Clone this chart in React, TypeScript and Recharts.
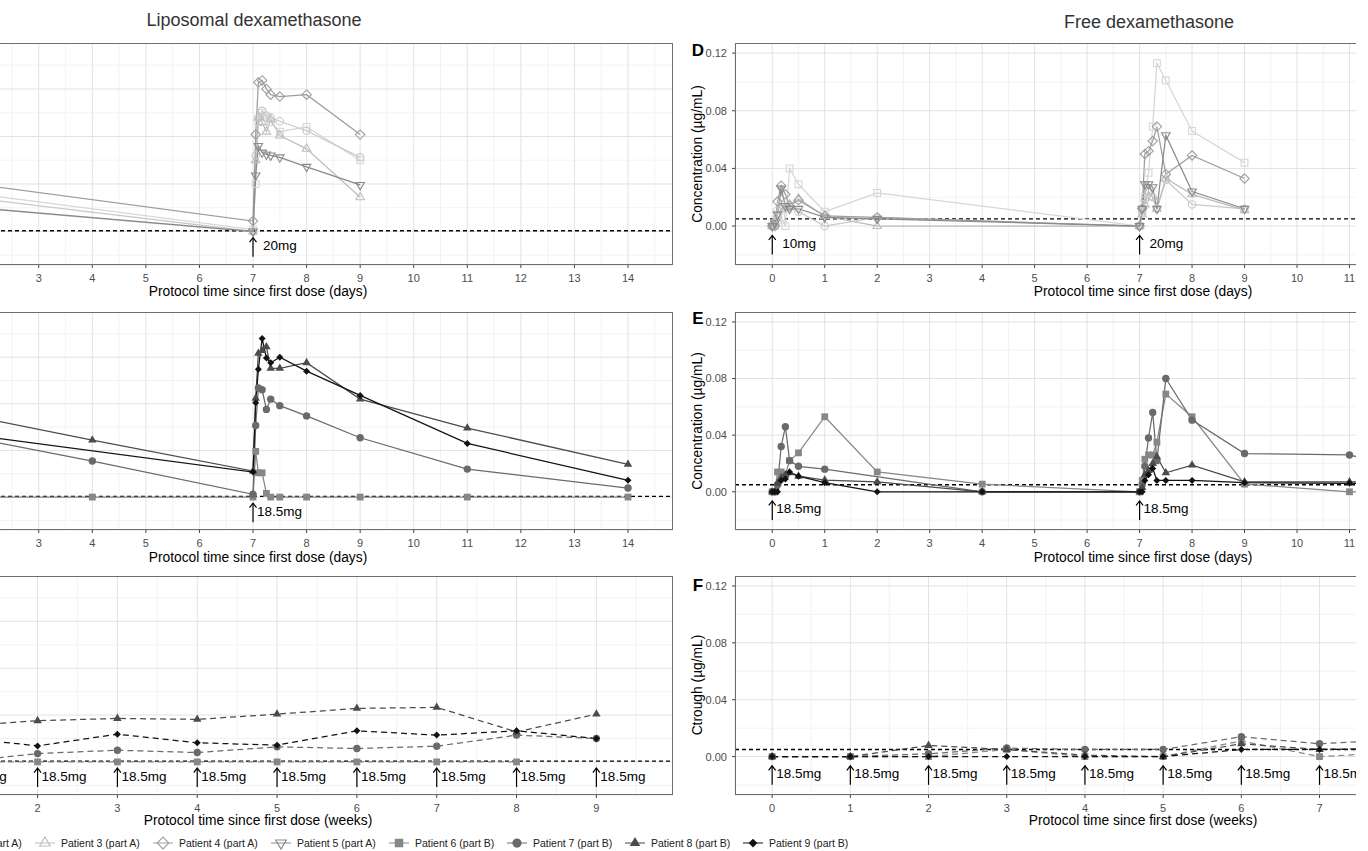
import React from 'react';
import { ComposedChart, Line, Scatter, XAxis, YAxis, CartesianGrid, ReferenceLine } from 'recharts';

const FONT = '"Liberation Sans", Arial, Helvetica, sans-serif';

// ---------- patients (legend order) ----------
const patientNames = [
  'Patient 1 (part A)', 'Patient 2 (part A)', 'Patient 3 (part A)', 'Patient 4 (part A)', 'Patient 5 (part A)',
  'Patient 6 (part B)', 'Patient 7 (part B)', 'Patient 8 (part B)', 'Patient 9 (part B)',
];
const patientColors = ['#d6d6d6', '#c9c9c9', '#bdbdbd', '#9e9e9e', '#8a8a8a', '#878787', '#6a6a6a', '#4b4b4b', '#121212'];
const patientShapes = ['sq', 'ci', 'tr', 'di', 'tv', 'sq', 'ci', 'tr', 'di'];
const patientFilled = [false, false, false, false, false, true, true, true, true];

// ---------- A: liposomal dexamethasone, part A (20 mg) ----------
const daysA = [2, 7, 7.05, 7.1, 7.17, 7.25, 7.33, 7.5, 8, 9];
const lipoP1 = [0.385, 0.02, 0.5, 1.15, 1.25, 1.2, 1.15, 1.05, 1.1, 0.75];
const lipoP2 = [0.338, 0, 0.8, 1.2, 1.27, 1.22, 1.2, 1.16, 1.06, 0.78];
const lipoP3 = [null, 0, 0.75, 1.2, 1.15, 1.05, 1.18, 1.01, 0.87, 0.36];
const lipoP4 = [0.484, 0.11, 1.02, 1.57, 1.59, 1.5, 1.44, 1.42, 1.44, 1.02];
const lipoP5 = [0.242, 0, 0.59, 0.9, 0.83, 0.81, 0.8, 0.78, 0.68, 0.49];

// ---------- B: liposomal dexamethasone, part B (18.5 mg) ----------
const daysB = [2, 4, 7, 7.05, 7.1, 7.17, 7.25, 7.33, 7.5, 8, 9, 11, 14];
const lipoP6 = [0, 0, 0, 0.49, 0.26, 0.26, 0.04, 0, 0, 0, 0, 0, 0];
const lipoP7 = [0.608, 0.386, 0.03, 0.767, 1.17, 1.15, 0.94, 1.05, 0.98, 0.87, 0.636, 0.3, 0.097];
const lipoP8 = [0.84, 0.61, 0.279, 1.06, 1.54, 1.57, 1.61, 1.38, 1.38, 1.44, 1.05, 0.74, 0.35];
const lipoP9 = [0.647, null, 0.268, 1.01, 1.37, 1.7, 1.49, 1.44, 1.5, 1.35, 1.09, 0.575, 0.18];

// ---------- C: liposomal trough, weekly ----------
const weeksC = [0, 1, 2, 3, 4, 5, 6, 7, 8, 9];
const troughLipoP6 = [0, 0, 0, 0, 0, 0, 0, 0, 0, null];
const troughLipoP7 = [0, 0, 0.089, 0.125, 0.1, 0.161, 0.143, 0.168, 0.286, 0.25];
const troughLipoP8 = [0, 0.38, 0.44, 0.464, 0.454, 0.51, 0.571, 0.582, 0.32, 0.51];
const troughLipoP9 = [0, 0.263, 0.171, 0.296, 0.204, 0.179, 0.332, 0.286, 0.332, 0.25];

// ---------- D: free dexamethasone, part A ----------
const daysD = [0, 0.05, 0.1, 0.17, 0.25, 0.33, 0.5, 1, 2, 7, 7.05, 7.1, 7.17, 7.25, 7.33, 7.5, 8, 9];
const freeP1 = [0, 0, 0.004, 0.006, 0, 0.04, 0.029, 0.01, 0.023, 0, 0.01, 0.02, 0.037, 0.069, 0.113, 0.101, 0.066, 0.044];
const freeP2 = [0, 0.003, 0.011, 0.015, 0.012, 0.013, 0.01, 0, 0.006, 0, 0.01, 0.018, 0.024, 0.02, 0.012, 0.032, 0.015, 0.012];
const freeP3 = [0, 0.002, 0.008, 0.012, 0.013, 0.015, 0.019, 0.007, 0, 0, 0.008, 0.015, 0.024, 0.02, 0.012, 0.033, 0.022, 0.011];
const freeP4 = [0, 0, 0.017, 0.028, 0.022, 0.014, 0.018, 0.007, 0.006, 0, 0.012, 0.05, 0.052, 0.059, 0.069, 0.036, 0.049, 0.033];
const freeP5 = [0, 0.002, 0.008, 0.026, 0.014, 0.012, 0.012, 0.006, 0.005, 0, 0.012, 0.029, 0.029, 0.027, 0.012, 0.063, 0.024, 0.012];

// ---------- E: free dexamethasone, part B ----------
const daysE = [0, 0.05, 0.1, 0.17, 0.25, 0.33, 0.5, 1, 2, 4, 7, 7.05, 7.1, 7.17, 7.25, 7.33, 7.5, 8, 9, 11, 14];
const freeP6 = [0, 0, 0.014, 0.014, 0.012, 0.022, 0.0275, 0.053, 0.014, 0.0054, 0, 0.008, 0.023, 0.026, 0.026, 0.035, 0.069, 0.053, 0.0054, 0, 0];
const freeP7 = [0, 0, 0.005, 0.032, 0.046, 0.022, 0.018, 0.016, null, 0, 0, 0.005, 0.018, 0.038, 0.056, 0.022, 0.08, 0.0506, 0.027, 0.026, 0];
const freeP8 = [0, 0, 0.006, 0.01, 0.012, 0.0134, 0.011, 0.0082, 0.007, 0, 0, 0.003, 0.012, 0.015, 0.02, 0.0247, 0.0134, 0.0188, 0.007, 0.007, 0.006];
const freeP9 = [0, 0, 0, 0.008, 0.009, 0.014, 0.011, 0.0064, 0, 0, 0, 0, 0.008, 0.012, 0.0165, 0.008, 0.008, 0.008, 0.0064, 0.006, 0.006];

// ---------- F: free trough, weekly ----------
const weeksF = [0, 1, 2, 3, 4, 5, 6, 7, 8, 9];
const troughFreeP6 = [0, 0, 0, 0.005, 0, 0, 0.011, 0, 0.003, null];
const troughFreeP7 = [0, 0, 0.002, 0.006, 0.005, 0.005, 0.014, 0.009, 0.012, 0.01];
const troughFreeP8 = [0, 0, 0.0078, 0.005, 0.001, 0, 0.009, 0.005, 0.006, 0.007];
const troughFreeP9 = [0, 0, 0, 0, 0, 0, 0.005, 0.005, 0.005, 0.005];

// dosing times and labels
const dosesA = [7];
const dosesB = [0, 7];
const dosesD = [0, 7];
const doseLabelsD = ['10mg', '20mg'];
const dosesWeeks = [0, 1, 2, 3, 4, 5, 6, 7, 8, 9];

// axes (left column is cropped, so only the visible tick labels are listed for it)
const dayTicks = [0, 1, 2, 3, 4, 5, 6, 7, 8, 9, 10, 11, 12, 13, 14];
const dayTicksLeft = [3, 4, 5, 6, 7, 8, 9, 10, 11, 12, 13, 14];
const weekTicks = [0, 1, 2, 3, 4, 5, 6, 7, 8, 9];
const weekTicksLeft = [2, 3, 4, 5, 6, 7, 8, 9];
const dayDomain = [-0.71, 14.84];
const weekDomain = [-0.475, 9.96];
const lipoTicks = [0, 0.5, 1, 1.5];
const lipoDomain = [-0.353, 1.984];
const freeTicks = [0, 0.04, 0.08, 0.12];
const freeDomain = [-0.027, 0.127];
const lipoLloq = 0.008;
const freeLloq = 0.005;

// layout (page pixels)
const LEFT_PLOT = { x: -160, w: 833 };
const RIGHT_PLOT = { x: 735, w: 816 };
const ROWS = [
  { top: 43, h: 222 },
  { top: 312, h: 218 },
  { top: 576, h: 219 },
];
const Y_AXIS_W = 55;
const X_AXIS_H = 26;
const CROP_RIGHT = 1356;

const midpoints = (t: number[]) => t.map((v) => v + (t[1] - t[0]) / 2);

function Marker({ cx, cy, idx, scale = 1 }: any) {
  if (cx == null || cy == null || isNaN(cx) || isNaN(cy)) return null;
  const color = patientColors[idx];
  const filled = patientFilled[idx];
  const fill = filled ? color : 'none';
  const sw = filled ? 0 : 1.1;
  switch (patientShapes[idx]) {
    case 'sq': {
      const s = 3.4 * scale;
      return <rect x={cx - s} y={cy - s} width={2 * s} height={2 * s} fill={fill} stroke={color} strokeWidth={sw} />;
    }
    case 'ci':
      return <circle cx={cx} cy={cy} r={3.7 * scale} fill={fill} stroke={color} strokeWidth={sw} />;
    case 'tr': {
      const r = 4.9 * scale;
      return (
        <polygon
          points={`${cx},${cy - r} ${cx + r * 0.866},${cy + r * 0.5} ${cx - r * 0.866},${cy + r * 0.5}`}
          fill={fill} stroke={color} strokeWidth={sw}
        />
      );
    }
    case 'tv': {
      const r = 4.9 * scale;
      return (
        <polygon
          points={`${cx},${cy + r} ${cx + r * 0.866},${cy - r * 0.5} ${cx - r * 0.866},${cy - r * 0.5}`}
          fill={fill} stroke={color} strokeWidth={sw}
        />
      );
    }
    default: {
      const d = (filled ? 3.5 : 4.7) * scale;
      return (
        <polygon
          points={`${cx},${cy - d} ${cx + d},${cy} ${cx},${cy + d} ${cx - d},${cy}`}
          fill={fill} stroke={color} strokeWidth={sw}
        />
      );
    }
  }
}

function toPoints(xs: number[], ys: (number | null)[]) {
  return xs.map((x, i) => ({ x, y: ys[i] })).filter((p) => p.y !== null);
}

type Series = { idx: number; xs: number[]; ys: (number | null)[] };

function makeArrow(gap: number) {
  return (props: any) => {
    const { cx, cy, payload } = props;
    return (
      <g>
        <line x1={cx} y1={cy} x2={cx} y2={cy + 19} stroke="#000" strokeWidth={1.2} />
        <polyline points={`${cx - 3.5},${cy + 4.5} ${cx},${cy} ${cx + 3.5},${cy + 4.5}`} fill="none" stroke="#000" strokeWidth={1.2} />
        <text x={cx + gap} y={cy + 8} dominantBaseline="central" fontSize={13.5} fontFamily={FONT} fill="#000">
          {payload.label}
        </text>
      </g>
    );
  };
}

type PanelProps = {
  side: 'left' | 'right';
  row: number;
  series: Series[];
  weekly?: boolean;
  doses: { x: number; y: number; label: string }[];
  gap: number;
};

function Panel({ side, row, series, weekly, doses, gap }: PanelProps) {
  const isLeft = side === 'left';
  const plot = isLeft ? LEFT_PLOT : RIGHT_PLOT;
  const r = ROWS[row];
  const yw = isLeft ? 0 : Y_AXIS_W;
  const allX = weekly ? weekTicks : dayTicks;
  const xTicks = isLeft ? (weekly ? weekTicksLeft : dayTicksLeft) : allX;
  const xDomain = weekly ? weekDomain : dayDomain;
  const yTicks = isLeft ? lipoTicks : freeTicks;
  const yDomain = isLeft ? lipoDomain : freeDomain;
  const lloq = isLeft ? lipoLloq : freeLloq;
  const yMinor = [yTicks[0] - (yTicks[1] - yTicks[0]) / 2, ...midpoints(yTicks)];

  const chart = (
    <ComposedChart width={plot.w + yw} height={r.h + X_AXIS_H} margin={{ top: 0, right: 0, bottom: 0, left: 0 }}>
      <CartesianGrid verticalValues={midpoints(allX)} horizontalValues={yMinor} stroke="#f0f0f0" strokeWidth={0.8} />
      <CartesianGrid stroke="#e2e2e2" strokeWidth={1} />
      <XAxis
        type="number" dataKey="x" domain={xDomain} ticks={xTicks} allowDataOverflow interval={0}
        height={X_AXIS_H} axisLine={false} tickLine={{ stroke: '#444' }} tickSize={3} tickMargin={6}
        tick={{ fontSize: 11, fill: '#4d4d4d', fontFamily: FONT }}
      />
      <YAxis
        type="number" dataKey="y" domain={yDomain} ticks={yTicks} allowDataOverflow hide={isLeft}
        width={yw} axisLine={false} tickLine={{ stroke: '#444' }} tickSize={3} tickMargin={5}
        tick={{ fontSize: 11, fill: '#4d4d4d', fontFamily: FONT }}
        tickFormatter={(v: number) => v.toFixed(2)}
      />
      <ReferenceLine y={lloq} stroke="#000" strokeWidth={1.4} strokeDasharray="4 3" />
      {series.map((s) => (
        <Line
          key={s.idx}
          data={toPoints(s.xs, s.ys)}
          dataKey="y"
          stroke={patientColors[s.idx]}
          strokeWidth={1.25}
          strokeDasharray={weekly ? '6 4' : undefined}
          dot={(p: any) => <Marker key={`${s.idx}-${p.index}`} cx={p.cx} cy={p.cy} idx={s.idx} />}
          activeDot={false}
          isAnimationActive={false}
        />
      ))}
      <Scatter data={doses} dataKey="y" shape={makeArrow(gap)} isAnimationActive={false} />
    </ComposedChart>
  );

  const frame = (left: number) => (
    <div
      style={{
        position: 'absolute', left, top: r.top, width: plot.w, height: r.h,
        border: '1px solid #6e6e6e', boxSizing: 'border-box', pointerEvents: 'none',
      }}
    />
  );

  if (isLeft) {
    return (
      <>
        <div style={{ position: 'absolute', left: plot.x, top: r.top }}>{chart}</div>
        {frame(plot.x)}
      </>
    );
  }
  const wrapLeft = plot.x - yw;
  return (
    <div style={{ position: 'absolute', left: wrapLeft, top: 0, width: CROP_RIGHT - wrapLeft, height: 851, overflow: 'hidden' }}>
      <div style={{ position: 'absolute', left: 0, top: r.top }}>{chart}</div>
      {frame(yw)}
    </div>
  );
}

const text = (s: string, x: number, y: number, style: React.CSSProperties = {}) => (
  <div
    style={{
      position: 'absolute', left: x, top: y, transform: 'translate(-50%, -50%)', whiteSpace: 'nowrap',
      fontSize: 13.8, color: '#000', ...style,
    }}
  >
    {s}
  </div>
);

export default function App() {
  const lipoArrowTop = -0.065;
  const freeArrowTop = -0.0065;
  const arrowsA = dosesA.map((x) => ({ x, y: lipoArrowTop, label: '20mg' }));
  const arrowsB = dosesB.map((x) => ({ x, y: lipoArrowTop, label: '18.5mg' }));
  const arrowsC = dosesWeeks.map((x) => ({ x, y: lipoArrowTop, label: '18.5mg' }));
  const arrowsD = dosesD.map((x, i) => ({ x, y: freeArrowTop, label: doseLabelsD[i] }));
  const arrowsE = dosesB.map((x) => ({ x, y: freeArrowTop, label: '18.5mg' }));
  const arrowsF = dosesWeeks.map((x) => ({ x, y: freeArrowTop, label: '18.5mg' }));

  return (
    <div
      style={{
        position: 'fixed', left: 0, top: 0, width: 1368, height: 851, overflow: 'hidden',
        background: '#fff', fontFamily: FONT,
      }}
    >
      <Panel side="left" row={0} gap={10} doses={arrowsA} series={[
        { idx: 0, xs: daysA, ys: lipoP1 }, { idx: 1, xs: daysA, ys: lipoP2 }, { idx: 2, xs: daysA, ys: lipoP3 },
        { idx: 3, xs: daysA, ys: lipoP4 }, { idx: 4, xs: daysA, ys: lipoP5 },
      ]} />
      <Panel side="left" row={1} gap={4} doses={arrowsB} series={[
        { idx: 5, xs: daysB, ys: lipoP6 }, { idx: 6, xs: daysB, ys: lipoP7 },
        { idx: 7, xs: daysB, ys: lipoP8 }, { idx: 8, xs: daysB, ys: lipoP9 },
      ]} />
      <Panel side="left" row={2} weekly gap={4} doses={arrowsC} series={[
        { idx: 5, xs: weeksC, ys: troughLipoP6 }, { idx: 6, xs: weeksC, ys: troughLipoP7 },
        { idx: 7, xs: weeksC, ys: troughLipoP8 }, { idx: 8, xs: weeksC, ys: troughLipoP9 },
      ]} />
      <Panel side="right" row={0} gap={10} doses={arrowsD} series={[
        { idx: 0, xs: daysD, ys: freeP1 }, { idx: 1, xs: daysD, ys: freeP2 }, { idx: 2, xs: daysD, ys: freeP3 },
        { idx: 3, xs: daysD, ys: freeP4 }, { idx: 4, xs: daysD, ys: freeP5 },
      ]} />
      <Panel side="right" row={1} gap={4} doses={arrowsE} series={[
        { idx: 5, xs: daysE, ys: freeP6 }, { idx: 6, xs: daysE, ys: freeP7 },
        { idx: 7, xs: daysE, ys: freeP8 }, { idx: 8, xs: daysE, ys: freeP9 },
      ]} />
      <Panel side="right" row={2} weekly gap={4} doses={arrowsF} series={[
        { idx: 5, xs: weeksF, ys: troughFreeP6 }, { idx: 6, xs: weeksF, ys: troughFreeP7 },
        { idx: 7, xs: weeksF, ys: troughFreeP8 }, { idx: 8, xs: weeksF, ys: troughFreeP9 },
      ]} />

      {text('Liposomal dexamethasone', 254, 20, { fontSize: 18, color: '#333' })}
      {text('Free dexamethasone', 1149, 22, { fontSize: 18, color: '#333' })}

      {text('Protocol time since first dose (days)', 258, 291)}
      {text('Protocol time since first dose (days)', 1143, 291)}
      {text('Protocol time since first dose (days)', 258, 557)}
      {text('Protocol time since first dose (days)', 1143, 557)}
      {text('Protocol time since first dose (weeks)', 258, 820)}
      {text('Protocol time since first dose (weeks)', 1143, 820)}

      {text('Concentration (\u00b5g/mL)', 697, 154, { transform: 'translate(-50%, -50%) rotate(-90deg)' })}
      {text('Concentration (\u00b5g/mL)', 697, 421, { transform: 'translate(-50%, -50%) rotate(-90deg)' })}
      {text('Ctrough (\u00b5g/mL)', 697, 685, { transform: 'translate(-50%, -50%) rotate(-90deg)' })}

      {text('D', 698, 51, { fontSize: 17, fontWeight: 700 })}
      {text('E', 698, 319, { fontSize: 17, fontWeight: 700 })}
      {text('F', 698, 586, { fontSize: 17, fontWeight: 700 })}

      <div style={{ position: 'absolute', left: -201, top: 835, display: 'flex' }}>
        {patientNames.map((name, i) => (
          <div key={name} style={{ width: 118, height: 16, display: 'flex', alignItems: 'center' }}>
            <svg width={20} height={16} style={{ flex: 'none' }}>
              <line x1={0} y1={8} x2={20} y2={8} stroke={patientColors[i]} strokeWidth={1} />
              <Marker cx={10} cy={8} idx={i} scale={1.25} />
            </svg>
            <span style={{ marginLeft: 6, fontSize: 10.5, color: '#222', whiteSpace: 'nowrap' }}>{name}</span>
          </div>
        ))}
      </div>
    </div>
  );
}
